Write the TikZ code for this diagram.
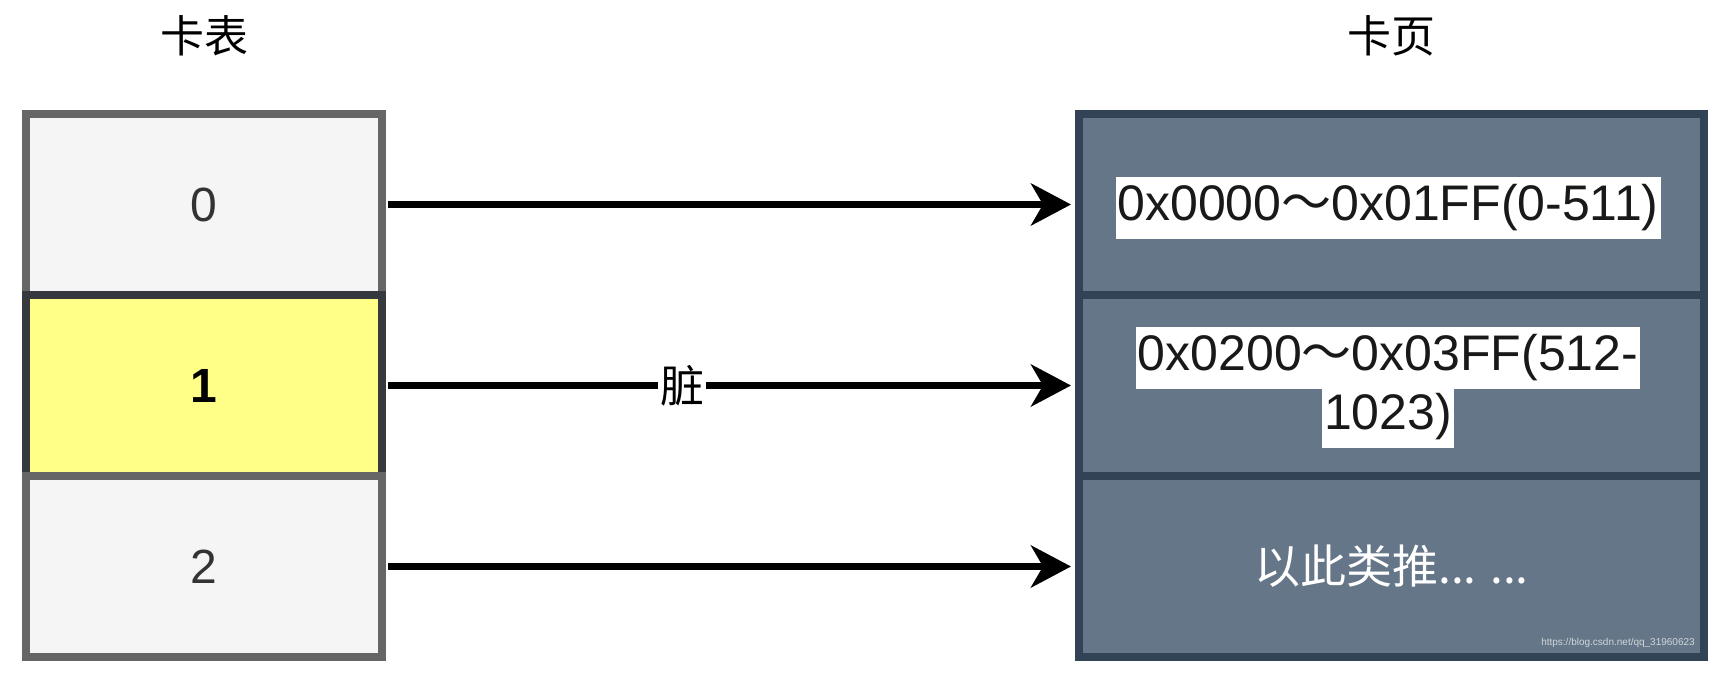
\documentclass[tikz,border=0pt]{standalone}
\usepackage{fontspec}
\setmainfont{Liberation Sans}
\newfontfamily\cjk{Noto Sans CJK SC}
\usetikzlibrary{arrows.meta}
\definecolor{lgfill}{HTML}{F5F5F5}
\definecolor{lgstroke}{HTML}{666666}
\definecolor{yfill}{HTML}{FFFF88}
\definecolor{ystroke}{HTML}{36393D}
\definecolor{sfill}{HTML}{647687}
\definecolor{sstroke}{HTML}{314354}
\begin{document}
\begin{tikzpicture}[x=0.5pt,y=-0.5pt,
  lcell/.style={draw=lgstroke, fill=lgfill, line width=4pt, minimum width=178pt, minimum height=90.5pt, inner sep=0pt, font=\fontsize{24}{28}\selectfont, text=black!80},
  ycell/.style={lcell, draw=ystroke, fill=yfill, text=black, font=\fontsize{24}{28}\selectfont\bfseries},
  rcell/.style={draw=sstroke, fill=sfill, line width=4pt, minimum width=312.5pt, minimum height=90.5pt, inner sep=0pt},
  addr/.style={fill=white, text=black!90, font=\fontsize{25}{30}\selectfont, inner xsep=1pt, inner ysep=0pt, minimum height=31pt},
  conn/.style={line width=3.5pt, shorten <=1pt, shorten >=2pt, -{Stealth[length=20pt,width=21pt,inset=6pt]}},
  titlelbl/.style={font=\cjk\fontsize{22}{26}\selectfont}
]
\useasboundingbox (0,0) rectangle (1720,674);
\node[titlelbl] (t1) at (204,36) {卡表};
\node[titlelbl] (t2) at (1391,36) {卡页};
\node[lcell] (c0) at (204,204.5) {0};
\node[ycell] (c1) at (204,385.5) {1};
\node[lcell] (c2) at (204,566.5) {2};
\node[rcell] (p0) at (1391.5,204.5) {};
\node[rcell] (p1) at (1391.5,385.5) {};
\node[rcell, text=white, font=\cjk\fontsize{23}{28}\selectfont] (p2) at (1391.5,566.5) {以此类推... ...};
\node[addr] (a0) at (1388,208) {0x0000{\cjk ～}0x01FF(0-511)};
\node[addr] (a1) at (1388,358) {0x0200{\cjk ～}0x03FF(512-};
\node[addr] (a2) at (1388,417) {1023)};
\node[font=\fontsize{5}{6}\selectfont, text=white!70!sfill] (wm) at (1618,643) {https://blog.csdn.net/qq\_31960623};
\draw[conn] (c0.east) -- (p0.west);
\draw[conn] (c1.east) -- node[pos=0.43, fill=white, inner sep=1pt, font=\cjk\fontsize{22}{26}\selectfont] (lbl) {脏} (p1.west);
\draw[conn] (c2.east) -- (p2.west);
\end{tikzpicture}
\end{document}
